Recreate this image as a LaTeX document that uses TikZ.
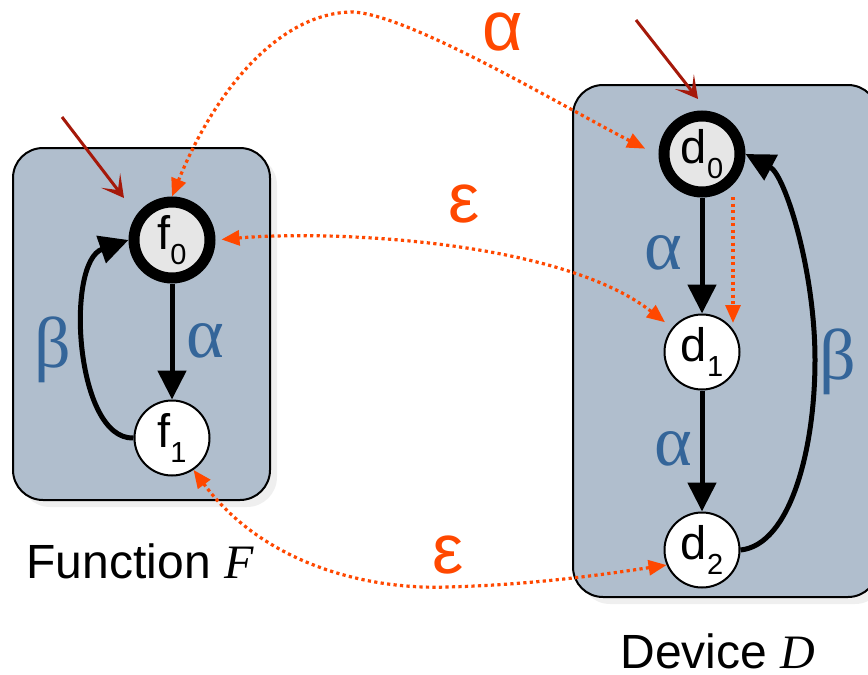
\documentclass[tikz,border=0pt]{standalone}
\usepackage{fontspec}
\setmainfont{Liberation Sans}
\newfontfamily\serifgr{Liberation Serif}
\usetikzlibrary{arrows.meta,shadows,calc}
\definecolor{boxfill}{RGB}{176,190,205}
\definecolor{grblue}{RGB}{52,101,153}
\definecolor{dotorange}{RGB}{255,72,0}
\definecolor{initred}{RGB}{165,25,10}
\definecolor{startfill}{RGB}{230,230,230}
\newcommand\stsub[1]{\raisebox{-0.33em}{\fontsize{29}{29}\selectfont #1}}
\begin{document}
\begin{tikzpicture}[x=1pt,y=-1pt,
  panel/.style={draw=black,line width=2pt,fill=boxfill,rounded corners=30pt,
    drop shadow={opacity=0.12,shadow xshift=7pt,shadow yshift=-7pt}},
  state/.style={circle,draw=black,line width=2pt,fill=white,minimum size=75pt,
    inner sep=0pt,outer sep=1pt,font=\fontsize{47}{47}\selectfont},
  startstate/.style={state,line width=11pt,fill=startfill,minimum size=76pt,outer sep=5.5pt},
  trans/.style={line width=5pt,-{Triangle[length=29pt,width=28pt]}},
  dotlink/.style={draw=dotorange,line width=3.2pt,dash pattern=on 3.2pt off 3.3pt,
    {Triangle[length=18pt,width=15pt]}-{Triangle[length=18pt,width=15pt]}},
  dotone/.style={draw=dotorange,line width=3.2pt,dash pattern=on 3.2pt off 3.3pt,
    -{Triangle[length=18pt,width=15pt]}},
  initarrow/.style={draw=initred,line width=3pt,
    -{Stealth[length=22pt,width=24pt,inset=12pt]}},
  bluelab/.style={text=grblue,font=\serifgr\fontsize{72}{72}\selectfont,inner sep=0pt},
  orangelab/.style={text=dotorange,font=\fontsize{70}{70}\selectfont,inner sep=0pt,anchor=base},
  caption/.style={font=\fontsize{48}{48}\selectfont,anchor=base,inner sep=0pt,text depth=0pt}
]
\fill[white] (0,0) rectangle (868,675);
\clip (0,0) rectangle (868,675);

% panels
\path[panel] (13,148) rectangle (270,500);
\path[panel] (573,85) rectangle (878,597);

% states
\node[startstate] (f0) at (172,240) {f\stsub{0}};
\node[state] (f1) at (172,438) {f\stsub{1}};
\node[startstate] (d0) at (702,154) {d\stsub{0}};
\node[state] (d1) at (702,352) {d\stsub{1}};
\node[state] (d2) at (702,550) {d\stsub{2}};

% initial arrows
\coordinate (fin0) at (62,117);
\coordinate (fin1) at (124,198);
\coordinate (din0) at (636,20);
\coordinate (din1) at (698,99);
\draw[initarrow] (fin0) -- (fin1);
\draw[initarrow] (din0) -- (din1);

% transitions
\draw[trans] (f0) -- (f1);
\draw[trans] (d0) -- (d1);
\draw[trans] (d1) -- (d2);
\draw[trans] (f1.west) .. controls (75,440) and (65,262) .. (f0.west);
\draw[trans] (d2.east) .. controls (790,545) and (815,450) .. (815,360)
   .. controls (815,270) and (785,175) .. (d0.east);

% transition labels
\node[bluelab] (la1) at (205,341) {α};
\node[bluelab] (lb1) at (53,350) {β};
\node[bluelab] (la2) at (663,253) {α};
\node[bluelab] (la3) at (673,449) {α};
\node[bluelab] (lb2) at (838,362) {β};

% dotted correspondence links
\draw[dotlink,shorten >=15pt] (f0.north) .. controls (215,90) and (280,12) .. (353,12)
   .. controls (410,15) and (560,105) .. (d0.182);
\draw[dotlink,shorten <=6pt,shorten >=9pt] (f0.east) .. controls (330,230) and (560,240) .. (d1.141);
\draw[dotlink] (f1.-56) .. controls (260,560) and (360,590) .. (447,587)
   .. controls (530,585) and (600,575) .. (d2.203);
\draw[dotone] ($(d0.center)+(31,43)$) -- ($(d1.center)+(31,-29)$);

\node[orangelab] (oa) at (503,50) {α};
\node[orangelab] (oe1) at (464,222) {ε};
\node[orangelab] (oe2) at (448,573) {ε};

% captions
\node[caption] (capf) at (140,578) {Function {\serifgr\itshape F}};
\node[caption] (capd) at (718,668) {Device {\serifgr\itshape D}};
\end{tikzpicture}
\end{document}
